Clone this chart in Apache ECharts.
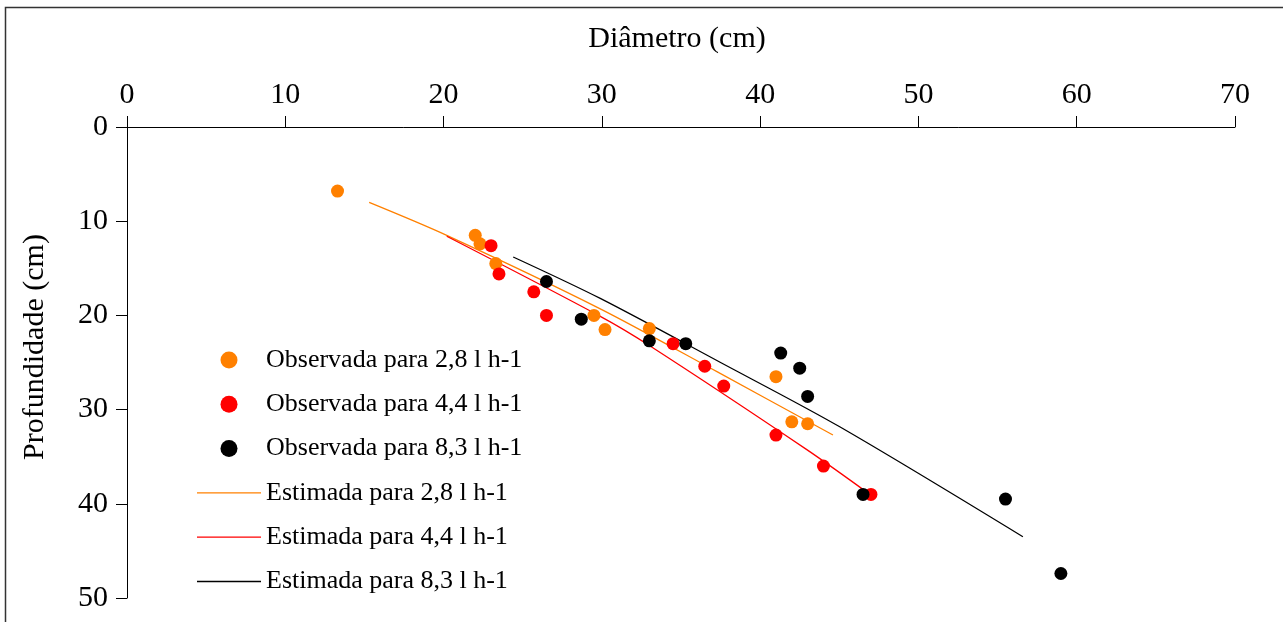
<!DOCTYPE html>
<html>
<head>
<meta charset="utf-8">
<script src="https://cdn.jsdelivr.net/npm/echarts@6/dist/echarts.min.js"></script>
<style>html,body{margin:0;padding:0;background:#fff;}#c{width:1283px;height:622px;}</style>
</head>
<body>
<div id="c"></div>
<script>
// Observed points [diameter, depth]
const obs28 = [[13.3,6.8],[22.0,11.5],[22.3,12.4],[23.3,14.5],[29.5,20.0],[30.2,21.5],[33.0,21.4],[41.0,26.5],[42.0,31.3],[43.0,31.5]];
const obs44 = [[23.0,12.6],[23.5,15.6],[25.7,17.5],[26.5,20.0],[34.5,23.0],[36.5,25.4],[37.7,27.5],[41.0,32.7],[44.0,36.0],[47.0,39.0]];
const obs83 = [[26.5,16.4],[28.7,20.4],[33.0,22.7],[35.3,23.0],[41.3,24.0],[42.5,25.6],[43.0,28.6],[46.5,39.0],[55.5,39.5],[59.0,47.4]];
// Estimated curves
const est28 = [[15.3,8.0],[20.2,11.5],[29.9,19.3],[37.3,26.0],[44.6,32.7]];
const est44 = [[20.2,11.6],[29.9,20.1],[33.0,23.2],[42.9,34.2],[46.6,38.6]];
const est83 = [[24.4,13.8],[29.9,18.2],[37.5,25.0],[45.0,31.8],[56.6,43.5]];
const names = ['Observada para 2,8 l h-1','Observada para 4,4 l h-1','Observada para 8,3 l h-1','Estimada para 2,8 l h-1','Estimada para 4,4 l h-1','Estimada para 8,3 l h-1'];
const colors = ['#ff8000','#ff0000','#000000'];
const xTicks = {min:0,max:70,interval:10};
const yTicks = {min:0,max:50,interval:10};

const FONT = 'Liberation Serif';
const chart = echarts.init(document.getElementById('c'), null, {renderer:'canvas'});
const scatter = (n,d,c) => ({name:n,type:'scatter',data:d,symbol:'circle',symbolSize:13,itemStyle:{color:c,opacity:1},z:3});
const line = (n,d,c) => ({name:n,type:'line',data:d,smooth:0.3,symbol:'none',showSymbol:false,lineStyle:{color:c,width:1.3},itemStyle:{color:c},z:2});
const lineIcon = 'path://M0,0H64V1.3H0Z';
chart.setOption({
  animation:false,
  backgroundColor:'#fff',
  textStyle:{fontFamily:FONT},
  grid:{left:127,top:127,right:48,bottom:24,containLabel:false},
  graphic:[
    {type:'rect',shape:{x:5.5,y:7.5,width:1300,height:700},style:{fill:'none',stroke:'#333',lineWidth:1.5},z:-1},
    {type:'text',x:35,y:347,rotation:Math.PI/2,style:{text:'Profundidade (cm)',font:'30px "Liberation Serif"',fill:'#000',align:'center',verticalAlign:'middle'}},
    {type:'text',x:677,y:39,style:{text:'Diâmetro (cm)',font:'30px "Liberation Serif"',fill:'#000',align:'center',verticalAlign:'middle'}}
  ],
  xAxis:{type:'value',position:'top',min:xTicks.min,max:xTicks.max,interval:xTicks.interval,
    axisLine:{show:true,lineStyle:{color:'#000',width:1}},
    axisTick:{show:true,length:11,lineStyle:{color:'#000',width:1}},
    axisLabel:{fontFamily:FONT,fontSize:30,color:'#000',margin:17},
    splitLine:{show:false}},
  yAxis:{type:'value',inverse:true,min:yTicks.min,max:yTicks.max,interval:yTicks.interval,
    axisLine:{show:true,lineStyle:{color:'#000',width:1}},
    axisTick:{show:true,length:11,lineStyle:{color:'#000',width:1}},
    axisLabel:{fontFamily:FONT,fontSize:30,color:'#000',margin:19},
    splitLine:{show:false}},
  legend:{orient:'vertical',left:192,top:342,itemWidth:64,itemHeight:17,itemGap:18.3,
    textStyle:{fontFamily:FONT,fontSize:26,color:'#000',lineHeight:26},
    data:[
      {name:names[0],icon:'circle'},{name:names[1],icon:'circle'},{name:names[2],icon:'circle'},
      {name:names[3],icon:lineIcon},{name:names[4],icon:lineIcon},{name:names[5],icon:lineIcon}
    ]},
  series:[
    scatter(names[0],obs28,colors[0]),
    scatter(names[1],obs44,colors[1]),
    scatter(names[2],obs83,colors[2]),
    line(names[3],est28,colors[0]),
    line(names[4],est44,colors[1]),
    line(names[5],est83,colors[2])
  ]
});
</script>
</body>
</html>
